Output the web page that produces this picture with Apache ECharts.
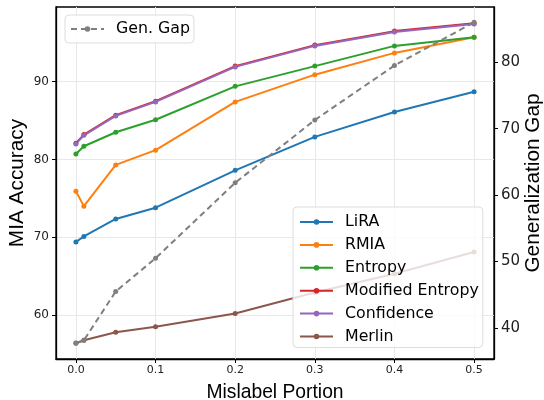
<!DOCTYPE html>
<html>
<head>
<meta charset="utf-8">
<script src="https://cdn.jsdelivr.net/npm/echarts@6/dist/echarts.min.js"></script>
<style>html,body{margin:0;padding:0;background:#fff}#c{width:544px;height:400px}</style>
</head>
<body>
<div id="c"></div>
<script>
const xValues = [0, 0.01, 0.05, 0.1, 0.2, 0.3, 0.4, 0.5];
const lira = [69.4, 70.1, 72.35, 73.8, 78.6, 82.9, 86.1, 88.7];
const rmia = [75.9, 74.0, 79.3, 81.2, 87.4, 90.9, 93.7, 95.7];
const entropy = [80.7, 81.7, 83.5, 85.1, 89.4, 92.0, 94.6, 95.7];
const modEntropy = [82.1, 83.2, 85.7, 87.5, 92.0, 94.7, 96.5, 97.5];
const confidence = [82.0, 83.1, 85.6, 87.4, 91.9, 94.6, 96.4, 97.4];
const merlin = [56.4, 56.75, 57.8, 58.5, 60.2, 62.9, 65.3, 68.1];
const genGap = [37.7, 38.15, 45.5, 50.5, 61.85, 71.3, 79.5, 86.0];
const xTicks = [0, 0.1, 0.2, 0.3, 0.4, 0.5];
const leftTicks = [60, 70, 80, 90];
const rightTicks = [40, 50, 60, 70, 80];

const pair = arr => xValues.map((x, i) => [x, arr[i]]);
const mk = (name, data, color, yIdx, dashed) => ({
  name, type: 'line', data: pair(data), yAxisIndex: yIdx,
  symbol: 'circle', symbolSize: 5, color,
  lineStyle: { width: 2, color, type: dashed ? [6, 4] : 'solid' },
  itemStyle: { color }, emphasis: { disabled: true }, animation: false
});

const chart = echarts.init(document.getElementById('c'), null, { renderer: 'canvas' });
const legText = { fontFamily: 'DejaVu Sans', fontSize: 15.8, color: '#000', padding: [0, 0, 0, 7] };
chart.setOption({
  backgroundColor: '#fff',
  animation: false,
  grid: { left: 56, right: 50, top: 7, bottom: 41, show: true, borderColor: '#000', borderWidth: 1.3,
    backgroundColor: 'transparent', containLabel: false, outerBoundsMode: 'none' },
  legend: [
    { data: ['Gen. Gap'], left: 65, top: 15, orient: 'vertical', itemWidth: 33, itemHeight: 7,
      textStyle: legText, backgroundColor: 'rgba(255,255,255,0.8)', borderColor: '#ddd', borderWidth: 1, borderRadius: 4,
      padding: [6, 4, 6, 5] },
    { data: ['LiRA', 'RMIA', 'Entropy', 'Modified Entropy', 'Confidence', 'Merlin'], left: 293, top: 207,
      orient: 'vertical', itemWidth: 33, itemHeight: 7, itemGap: 6.9,
      textStyle: legText, backgroundColor: 'rgba(255,255,255,0.8)', borderColor: '#ddd', borderWidth: 1, borderRadius: 4,
      padding: [7, 4, 3, 6] }
  ],
  xAxis: {
    type: 'value', min: -0.025, max: 0.525,
    name: 'Mislabel Portion', nameLocation: 'middle', nameGap: 24,
    nameTextStyle: { fontFamily: 'Liberation Sans', fontSize: 19.3, color: '#000' },
    axisLine: { show: true, onZero: false, lineStyle: { color: '#000', width: 1.3 } },
    axisTick: { show: true, length: 4, lineStyle: { color: '#000' }, customValues: xTicks },
    axisLabel: { fontFamily: 'DejaVu Sans', fontSize: 11, color: '#222', margin: 6, customValues: xTicks,
      formatter: v => v.toFixed(1) },
    splitLine: { show: true, lineStyle: { color: '#e8e8e8', width: 1 } }
  },
  yAxis: [
    { type: 'value', min: 54.35, max: 99.6, position: 'left',
      name: 'MIA Accuracy', nameLocation: 'middle', nameGap: 28, nameRotate: 90, nameMoveOverlap: false,
      nameTextStyle: { fontFamily: 'Liberation Sans', fontSize: 20.8, color: '#000' },
      axisLine: { show: true, onZero: false, lineStyle: { color: '#000', width: 1.3 } },
      axisTick: { show: true, length: 4, lineStyle: { color: '#000' }, customValues: leftTicks },
      axisLabel: { fontFamily: 'DejaVu Sans', fontSize: 12, color: '#222', margin: 7, customValues: leftTicks },
      splitLine: { show: true, lineStyle: { color: '#e8e8e8', width: 1 } } },
    { type: 'value', min: 35.34, max: 88.3, position: 'right',
      name: 'Generalization Gap', nameLocation: 'middle', nameGap: 29, nameRotate: 90, nameMoveOverlap: false,
      nameTextStyle: { fontFamily: 'Liberation Sans', fontSize: 20.8, color: '#000' },
      axisLine: { show: true, onZero: false, lineStyle: { color: '#000', width: 1.3 } },
      axisTick: { show: true, length: 4, lineStyle: { color: '#000' }, customValues: rightTicks },
      axisLabel: { fontFamily: 'DejaVu Sans', fontSize: 15, color: '#222', margin: 7, customValues: rightTicks },
      splitLine: { show: false } }
  ],
  series: [
    mk('LiRA', lira, '#1f77b4', 0),
    mk('RMIA', rmia, '#ff7f0e', 0),
    mk('Entropy', entropy, '#2ca02c', 0),
    mk('Modified Entropy', modEntropy, '#d62728', 0),
    mk('Confidence', confidence, '#9467bd', 0),
    mk('Merlin', merlin, '#8c564b', 0),
    mk('Gen. Gap', genGap, '#7f7f7f', 1, true)
  ]
});
</script>
</body>
</html>
